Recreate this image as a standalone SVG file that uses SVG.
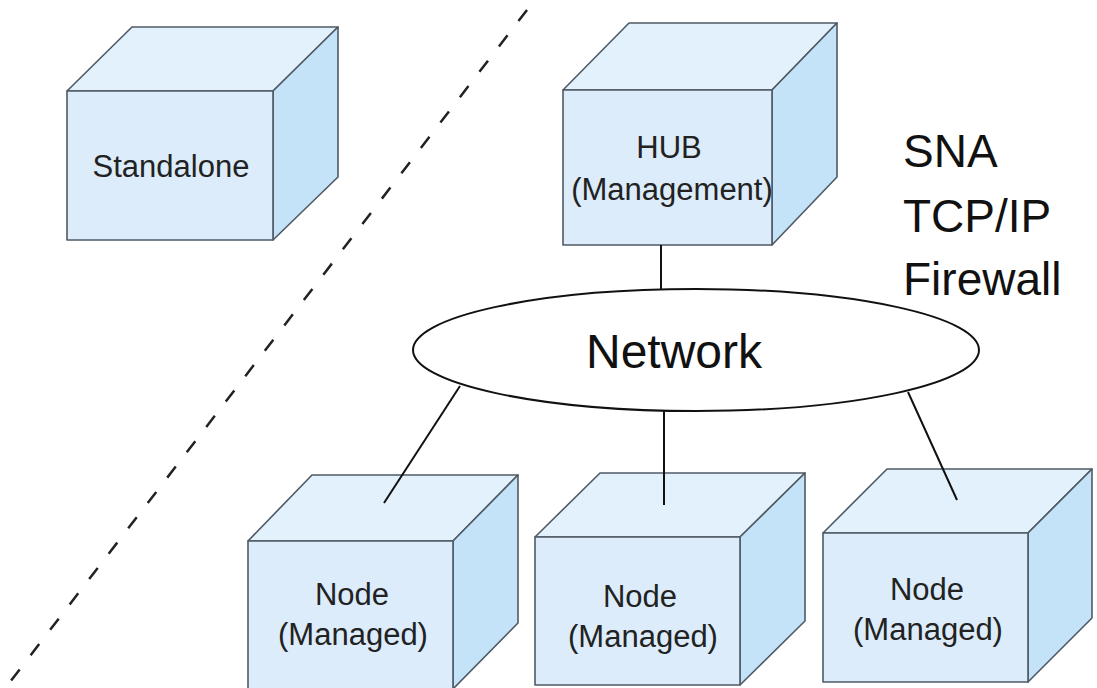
<svg xmlns="http://www.w3.org/2000/svg" width="1097" height="688" viewBox="0 0 1097 688">
<style>
.front{fill:#dcecfb;stroke:#4f5a64;stroke-width:1.6;stroke-linejoin:round}
.top{fill:#e3f1fd;stroke:#4f5a64;stroke-width:1.6;stroke-linejoin:round}
.side{fill:#c4e2f8;stroke:#4f5a64;stroke-width:1.6;stroke-linejoin:round}
.lbl{font-family:"Liberation Sans",Arial,sans-serif;font-size:31px;fill:#222;text-anchor:middle}
.big{font-family:"Liberation Sans",Arial,sans-serif;font-size:46px;fill:#111}
.conn{stroke:#111;stroke-width:2;fill:none}
</style>
<rect width="1097" height="688" fill="#fff"/>
<line x1="527" y1="10" x2="10" y2="682" stroke="#222" stroke-width="2.5" stroke-dasharray="14 18"/>
<g id="standalone">
<polygon class="top" points="67,91 132,27 338,27 273,91"/>
<polygon class="side" points="273,91 338,27 338,177 273,240"/>
<rect class="front" x="67" y="91" width="206" height="149"/>
<text class="lbl" x="171" y="177">Standalone</text>
</g>
<g id="hub">
<polygon class="top" points="563,90 629,23 837,23 772,90"/>
<polygon class="side" points="772,90 837,23 837,177 772,245"/>
<rect class="front" x="563" y="90" width="209" height="155"/>
<text class="lbl" x="669" y="158">HUB</text>
<text class="lbl" x="672" y="200">(Management)</text>
</g>
<g id="network">
<ellipse cx="696" cy="350" rx="283" ry="61" fill="#fff" stroke="#111" stroke-width="2"/>
<text class="big" x="674" y="368" text-anchor="middle" style="font-size:48px">Network</text>
</g>
<g id="protocols">
<text class="big" x="903" y="167">SNA</text>
<text class="big" x="903" y="232">TCP/IP</text>
<text class="big" x="903" y="295">Firewall</text>
</g>
<g id="node1">
<polygon class="top" points="248,541 312,475 518,475 453,541"/>
<polygon class="side" points="453,541 518,475 518,623 453,689"/>
<rect class="front" x="248" y="541" width="205" height="148"/>
<text class="lbl" x="352" y="605">Node</text>
<text class="lbl" x="353" y="645">(Managed)</text>
</g>
<g id="node2">
<polygon class="top" points="535,537 600,473 805,473 740,537"/>
<polygon class="side" points="740,537 805,473 805,621 740,685"/>
<rect class="front" x="535" y="537" width="205" height="148"/>
<text class="lbl" x="640" y="607">Node</text>
<text class="lbl" x="643" y="647">(Managed)</text>
</g>
<g id="node3">
<polygon class="top" points="823,533 887,469 1092,469 1028,533"/>
<polygon class="side" points="1028,533 1092,469 1092,618 1028,682"/>
<rect class="front" x="823" y="533" width="205" height="149"/>
<text class="lbl" x="927" y="600">Node</text>
<text class="lbl" x="928" y="640">(Managed)</text>
</g>
<g id="connectors">
<line class="conn" x1="661" y1="245" x2="661" y2="289"/>
<line class="conn" x1="460" y1="386" x2="384" y2="503"/>
<line class="conn" x1="664" y1="411" x2="664" y2="505"/>
<line class="conn" x1="908" y1="392" x2="957" y2="500"/>
</g>
</svg>
